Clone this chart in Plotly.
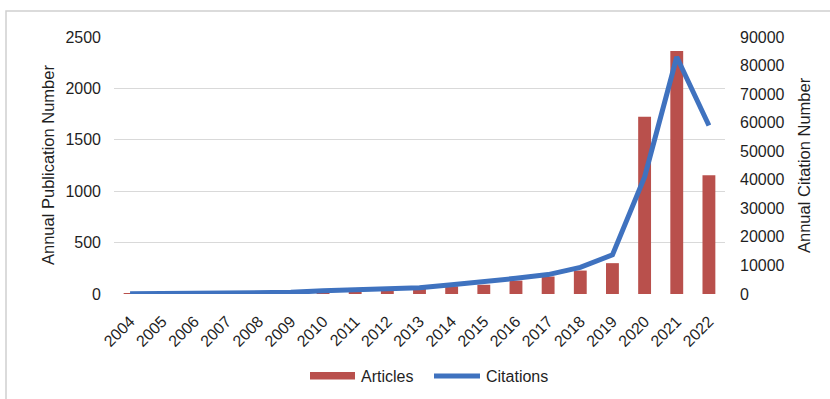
import plotly.graph_objects as go

# Annual publication and citation counts
years = ["2004", "2005", "2006", "2007", "2008", "2009", "2010", "2011", "2012", "2013",
         "2014", "2015", "2016", "2017", "2018", "2019", "2020", "2021", "2022"]
articles = [2, 3, 5, 8, 15, 18, 30, 45, 42, 65, 75, 90, 130, 170, 228, 300, 1725, 2364, 1155]
citations = [50, 100, 150, 250, 500, 600, 1100, 1500, 1600, 2200, 3200, 4200, 5500, 6800,
             9300, 13700, 41000, 83000, 59000]

left_ticks = [0, 500, 1000, 1500, 2000, 2500]
right_ticks = [0, 10000, 20000, 30000, 40000, 50000, 60000, 70000, 80000, 90000]

W, H = 830, 399
L, R, T, B = 114, 105, 37, 105
pw, ph = W - L - R, H - T - B

font = "Liberation Sans, Arial, sans-serif"
txt = "#1f1f1f"
bar_color = "#B9504C"
line_color = "#3F72BF"


def px_x(x):
    return (x - L) / pw


def px_y(y):
    return (H - B - y) / ph


fig = go.Figure()
fig.add_trace(go.Bar(x=years, y=articles, name="Articles", marker_color=bar_color,
                     marker_line_width=0, showlegend=False))
fig.add_trace(go.Scatter(x=years, y=citations, name="Citations", yaxis="y2", mode="lines",
                         line=dict(color=line_color, width=5), showlegend=False))

# outer chart frame
fig.add_shape(type="rect", xref="paper", yref="paper",
              x0=px_x(6), x1=px_x(W + 10), y0=px_y(H + 10), y1=px_y(11),
              line=dict(color="#D0D0D0", width=1.5), fillcolor="rgba(0,0,0,0)", layer="below")

# legend: wide swatches with labels
ly = px_y(376)
fig.add_shape(type="rect", xref="paper", yref="paper",
              x0=px_x(310), x1=px_x(355), y0=px_y(379.5), y1=px_y(372),
              line=dict(width=0), fillcolor=bar_color)
fig.add_shape(type="line", xref="paper", yref="paper",
              x0=px_x(434), x1=px_x(480), y0=ly, y1=ly,
              line=dict(color=line_color, width=5))
fig.add_annotation(text="Articles", xref="paper", yref="paper", x=px_x(359), y=ly,
                   xanchor="left", yanchor="middle", showarrow=False,
                   font=dict(size=16, color=txt))
fig.add_annotation(text="Citations", xref="paper", yref="paper", x=px_x(484), y=ly,
                   xanchor="left", yanchor="middle", showarrow=False,
                   font=dict(size=16, color=txt))

# axis titles
fig.add_annotation(text="Annual Publication Number", xref="paper", yref="paper",
                   x=px_x(48), y=px_y(165), textangle=-90, showarrow=False,
                   xanchor="center", yanchor="middle", font=dict(size=16.5, color=txt))
fig.add_annotation(text="Annual Citation Number", xref="paper", yref="paper",
                   x=px_x(804), y=px_y(165), textangle=-90, showarrow=False,
                   xanchor="center", yanchor="middle", font=dict(size=16.5, color=txt))

fig.update_layout(
    width=W, height=H,
    margin=dict(l=L, r=R, t=T, b=B, autoexpand=False),
    paper_bgcolor="white", plot_bgcolor="white",
    font=dict(family=font, size=16, color=txt),
    bargap=0.6,
    showlegend=False,
    xaxis=dict(tickangle=-45, tickfont=dict(size=16, color=txt), showgrid=False,
               showline=False, ticks="", automargin=False, ticklabelstandoff=14),
    yaxis=dict(range=[0, 2500], tickvals=left_ticks, showgrid=True, gridcolor="#D9D9D9",
               gridwidth=1, zeroline=False, showline=False, ticks="", automargin=False,
               tickfont=dict(size=16, color=txt), ticklabelstandoff=12),
    yaxis2=dict(range=[0, 90000], tickvals=right_ticks, tickformat="d", overlaying="y",
                side="right", showgrid=False, zeroline=False, showline=False, ticks="",
                automargin=False, tickfont=dict(size=16, color=txt), ticklabelstandoff=14),
)

fig.write_html("out.html")
